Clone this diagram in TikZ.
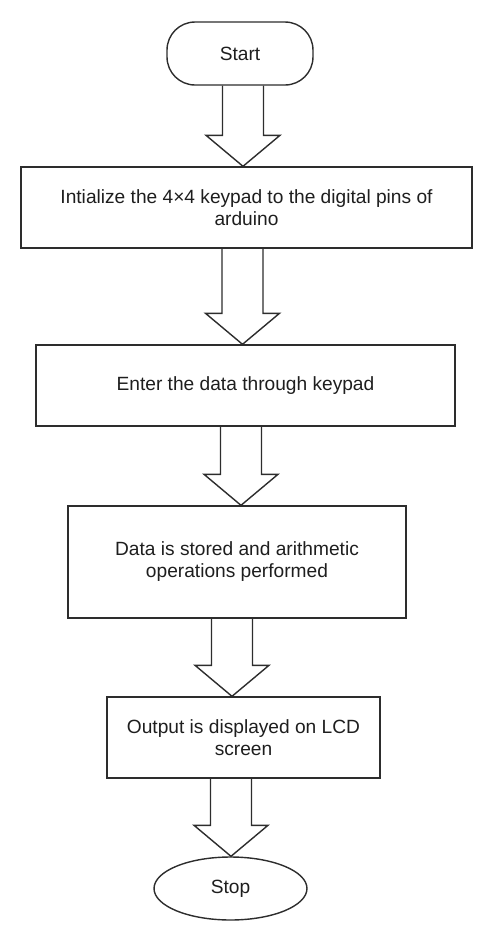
\documentclass[tikz,border=0pt]{standalone}
\usepackage{fontspec}
\setmainfont{Liberation Sans}
\usetikzlibrary{positioning, calc, shapes.geometric}

\definecolor{linegray}{RGB}{45,45,45}
\definecolor{textgray}{RGB}{30,30,30}

\newcommand{\blockarrow}[3]{%
  \coordinate (ax) at (#3,0);
  \draw[fat arrow] ($(#1.south -| ax)+(-20.5,0)$) -- ($(#2.north -| ax)+(-20.5,-31)$)
    -- ($(#2.north -| ax)+(-37,-31)$) -- (#2.north -| ax) -- ($(#2.north -| ax)+(37,-31)$)
    -- ($(#2.north -| ax)+(20.5,-31)$) -- ($(#1.south -| ax)+(20.5,0)$);
}

\begin{document}
\begin{tikzpicture}[x=0.02cm, y=-0.02cm,
  base node/.style={draw=linegray, line width=0.8pt, inner sep=0pt, align=center,
    text=textgray, font=\fontsize{10.9}{12.5}\selectfont},
  term node/.style={base node, rounded corners=0.56cm, minimum width=2.92cm, minimum height=1.26cm},
  process node/.style={base node, minimum height=1.62cm},
  end node/.style={base node, ellipse, minimum width=3.06cm, minimum height=1.26cm},
  fat arrow/.style={draw=linegray, line width=0.8pt, line join=miter}]

\useasboundingbox (0,0) rectangle (496,940);

\node[term node] (start) at (240,53.5) {Start};
\node[process node, minimum width=9.02cm] (init) at (246.5,207.5)
  {Intialize the 4×4 keypad to the digital pins of\\arduino};
\node[process node, minimum width=8.38cm] (enter) at (245.5,385.5) {Enter the data through keypad};
\node[process node, minimum width=6.76cm, minimum height=2.24cm] (store) at (237,562)
  {Data is stored and arithmetic\\operations performed};
\node[process node, minimum width=5.46cm] (output) at (243.5,737.5)
  {Output is displayed on LCD\\screen};
\node[end node] (stop) at (230.5,888.5) {Stop};

\blockarrow{start}{init}{243}
\blockarrow{init}{enter}{242.5}
\blockarrow{enter}{store}{241}
\blockarrow{store}{output}{232}
\blockarrow{output}{stop}{231}

\end{tikzpicture}
\end{document}
